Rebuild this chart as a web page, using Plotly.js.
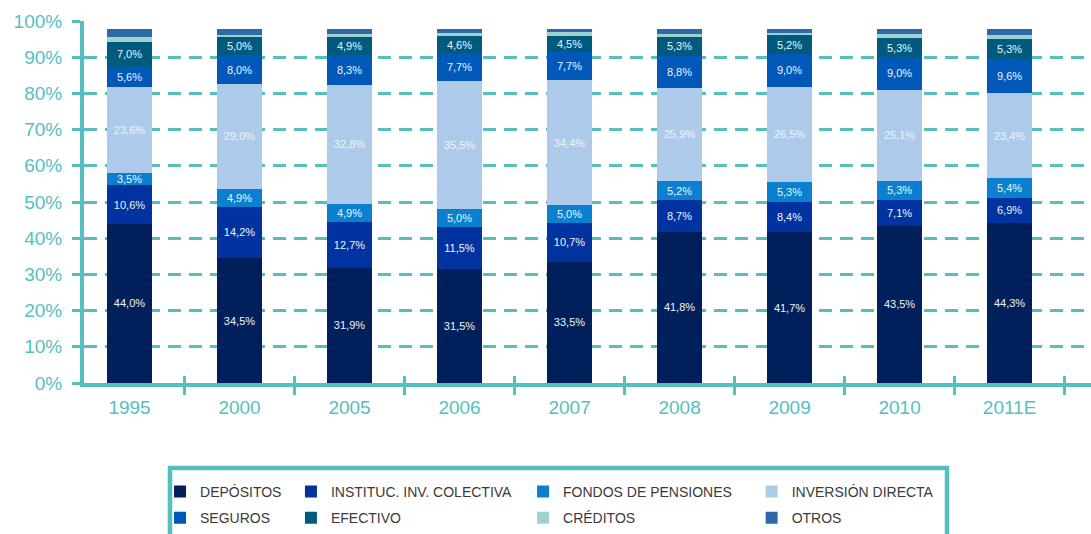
<!DOCTYPE html>
<html>
<head>
<meta charset="utf-8">
<script src="https://cdn.plot.ly/plotly-3.0.1.min.js"></script>
<style>html,body{margin:0;padding:0;background:#fff;}#chart{width:1091px;height:534px;}</style>
</head>
<body>
<div id="chart"></div>
<script>
var years = ['1995','2000','2005','2006','2007','2008','2009','2010','2011E'];
var depositos = [44.0,34.5,31.9,31.5,33.5,41.8,41.7,43.5,44.3];
var instituc  = [10.6,14.2,12.7,11.5,10.7,8.7,8.4,7.1,6.9];
var fondos    = [3.5,4.9,4.9,5.0,5.0,5.2,5.3,5.3,5.4];
var inversion = [23.6,29.0,32.8,35.5,34.4,25.9,26.5,25.1,23.4];
var seguros   = [5.6,8.0,8.3,7.7,7.7,8.8,9.0,9.0,9.6];
var efectivo  = [7.0,5.0,4.9,4.6,4.5,5.3,5.2,5.3,5.3];
var creditos  = [1.4,0.4,0.9,0.9,1.1,0.8,0.5,1.0,1.2];
var otros     = [2.1,1.8,1.4,1.1,0.9,1.3,1.2,1.5,1.7];
var yTickVals = [0,10,20,30,40,50,60,70,80,90,100];
var yTickText = ['\u2007\u20070%','\u200710%','\u200720%','\u200730%','\u200740%','\u200750%','\u200760%','\u200770%','\u200780%','\u200790%','100%'];

var TEAL = '#55bfbf';
var FONT = 'Liberation Sans, Arial, sans-serif';

function series(name, vals, color, legendId, showText) {
  return {
    type: 'bar', name: name, x: years, y: vals,
    marker: {color: color, line: {width: 0}},
    legend: legendId, legendgroup: name,
    texttemplate: showText ? '%{y:.1f}%' : '',
    textposition: showText ? 'inside' : 'none',
    insidetextanchor: 'middle', textangle: 0, constraintext: 'none',
    textfont: {family: FONT, size: 11, color: '#eef3fa'},
    hoverinfo: 'name+y'
  };
}

var data = [
  series('DEPÓSITOS', depositos, '#00205b', 'legend', true),
  series('INSTITUC. INV. COLECTIVA', instituc, '#0033a0', 'legend2', true),
  series('FONDOS DE PENSIONES', fondos, '#0b80cf', 'legend3', true),
  series('INVERSIÓN DIRECTA', inversion, '#aecaea', 'legend4', true),
  series('SEGUROS', seguros, '#0058b9', 'legend', true),
  series('EFECTIVO', efectivo, '#005a7e', 'legend2', true),
  series('CRÉDITOS', creditos, '#a1d1cd', 'legend3', false),
  series('OTROS', otros, '#2e6aa9', 'legend4', false),
  // helper trace so the overlay axis (upper half of the crossing x ticks) has categories
  {type: 'scatter', mode: 'none', x: years, y: depositos.map(function(){return 0;}),
   xaxis: 'x2', yaxis: 'y', showlegend: false, hoverinfo: 'skip'}
];

function leg(x) {
  return {x: x, xanchor: 'left', y: -0.2565, yanchor: 'top', orientation: 'v',
          traceorder: 'grouped', tracegroupgap: 5, bgcolor: 'rgba(0,0,0,0)',
          font: {family: FONT, size: 14, color: '#3a3a3a'}};
}

var layout = {
  width: 1091, height: 534,
  margin: {l: 84, r: 0, t: 21, b: 151, pad: 0},
  paper_bgcolor: '#fff', plot_bgcolor: '#fff',
  separators: ',.',
  barmode: 'stack', bargap: 0.59,
  showlegend: true,
  legend: leg(0.0755), legend2: leg(0.2055), legend3: leg(0.436), legend4: leg(0.663),
  xaxis: {
    type: 'category', range: [-0.414, 8.74],
    tickson: 'boundaries', ticks: 'outside', ticklen: 8, tickwidth: 3, tickcolor: TEAL,
    showline: true, linewidth: 4, linecolor: TEAL, showgrid: false,
    ticklabelstandoff: 4,
    tickfont: {family: FONT, size: 19, color: TEAL}
  },
  xaxis2: {
    type: 'category', overlaying: 'x', anchor: 'y', side: 'bottom', range: [-0.414, 8.74],
    tickson: 'boundaries', ticks: 'inside', ticklen: 7, tickwidth: 3, tickcolor: TEAL,
    showticklabels: false, showline: false, showgrid: false, zeroline: false
  },
  yaxis: {
    range: [0, 100], tickvals: yTickVals, ticktext: yTickText,
    ticks: 'outside', ticklen: 8, tickwidth: 3, tickcolor: TEAL,
    showline: true, linewidth: 4, linecolor: TEAL,
    showgrid: true, gridcolor: TEAL, gridwidth: 3, griddash: '13px,8px',
    zeroline: false, ticklabelstandoff: 6,
    tickfont: {family: FONT, size: 19, color: TEAL}
  },
  shapes: [{
    type: 'rect', xref: 'paper', yref: 'paper', layer: 'above',
    x0: 0.0854, x1: 0.857, y0: -0.235, y1: -0.45,
    line: {color: TEAL, width: 4.5}, fillcolor: 'rgba(0,0,0,0)'
  }]
};

Plotly.newPlot('chart', data, layout, {displayModeBar: false, staticPlot: true});
</script>
</body>
</html>
